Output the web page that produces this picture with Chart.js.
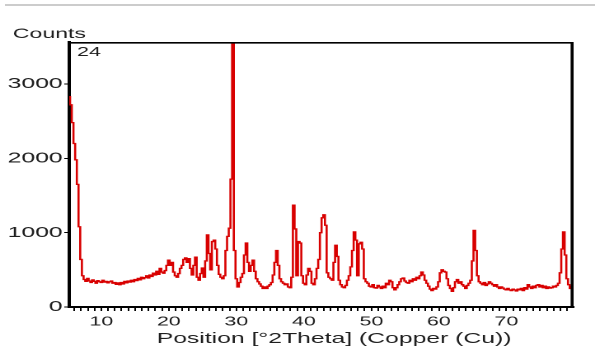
<!DOCTYPE html>
<html>
<head>
<meta charset="utf-8">
<script src="https://cdn.jsdelivr.net/npm/chart.js@4.4.1/dist/chart.umd.min.js"></script>
<style>
  html, body { margin: 0; padding: 0; background: #fff; width: 595px; height: 354px; overflow: hidden; }
  #topline { position: absolute; left: 5px; right: 0; top: 4px; height: 2px; background: #cccccc; }
  #wrap { position: absolute; left: 0; top: 0; width: 361px; height: 354px; transform: scaleX(1.6482); transform-origin: 0 0; }
</style>
</head>
<body>
<div id="topline"></div>
<div id="wrap"><canvas id="c" width="361" height="354"></canvas></div>
<script>
// 2θ scan: first angle and step width (degrees)
const startAngle = 5.25;
const angleStep = 0.25;
// Counts, 4 values per degree (rows start at n+0.25 and end at n+1)
const counts = [
  2830, 2720, 2480, 2200,
  1980, 1650, 1080, 640,
  420, 370, 345, 385,
  350, 330, 365, 345,
  320, 355, 340, 330,
  360, 335, 345, 325,
  340, 350, 320, 330,
  305, 325, 300, 330,
  310, 345, 325, 350,
  335, 360, 340, 370,
  355, 385, 365, 400,
  380, 395, 420, 390,
  430, 410, 455, 430,
  480, 440, 520, 470,
  455, 490, 560, 630,
  560, 600, 470, 420,
  400, 450, 520, 560,
  640, 660, 600, 650,
  520, 430, 560, 670,
  400, 360, 450, 525,
  400, 620, 970, 720,
  500, 880, 900, 780,
  560, 440, 400, 380,
  420, 760, 950, 1060,
  1720, 3565, 760, 380,
  270, 330, 400, 450,
  700, 860, 600, 480,
  560, 630, 480, 380,
  340, 310, 280, 250,
  270, 250, 280, 300,
  330, 430, 600, 760,
  560, 380, 340, 320,
  300, 310, 270, 260,
  400, 1370, 1050, 420,
  880, 860, 420, 320,
  300, 430, 520, 480,
  320, 300, 380, 520,
  640, 1000, 1200, 1240,
  1100, 460, 400, 380,
  360, 600, 830, 680,
  360, 300, 270, 260,
  290, 360, 420, 540,
  760, 1010, 900, 420,
  850, 870, 780, 380,
  340, 320, 280, 270,
  300, 260, 255, 290,
  270, 250, 280, 260,
  320, 300, 360, 340,
  260, 230, 260, 300,
  340, 380, 390, 350,
  330, 320, 360, 340,
  380, 360, 400, 380,
  420, 470, 430, 360,
  320, 280, 240, 220,
  250, 240, 270, 340,
  460, 500, 480, 470,
  380, 290, 250, 210,
  260, 340, 370, 320,
  340, 300, 280, 250,
  290, 320, 360, 620,
  1030, 760, 420, 340,
  320, 300, 330, 290,
  310, 340, 320, 300,
  280, 300, 270, 250,
  270, 255, 240, 230,
  250, 230, 220, 240,
  230, 215, 240, 230,
  250, 220, 260, 240,
  300, 270, 250, 280,
  260, 290, 300, 270,
  290, 260, 280, 250,
  270, 255, 260, 280,
  270, 290, 320, 460,
  780, 1010, 700, 380,
  300, 250, 280, 260
];
const yTicks = [0, 1000, 2000, 3000];
const xTickLabels = [10, 20, 30, 40, 50, 60, 70];
const yTitle = 'Counts';
const xTitle = 'Position [°2Theta] (Copper (Cu))';
const scanLabel = '24';

const points = counts.map((c, i) => ({ x: startAngle + i * angleStep, y: c }));

const FONT = '"Liberation Sans", Arial, sans-serif';

const framePlugin = {
  id: 'frame',
  afterDraw(chart) {
    const { ctx, chartArea: a } = chart;
    ctx.save();
    ctx.strokeStyle = '#000';
    ctx.lineWidth = 1.6;
    ctx.beginPath();
    ctx.moveTo(a.left, a.top + 0.8);
    ctx.lineTo(a.right, a.top + 0.8);
    ctx.stroke();
    ctx.lineWidth = 1.8;
    ctx.beginPath();
    ctx.moveTo(a.right - 0.9, a.top);
    ctx.lineTo(a.right - 0.9, a.bottom);
    ctx.stroke();
    ctx.fillStyle = '#1e1e1e';
    ctx.textBaseline = 'alphabetic';
    ctx.textAlign = 'left';
    ctx.font = '14px ' + FONT;
    ctx.fillText(yTitle, 7.8, 38);
    ctx.font = '13px ' + FONT;
    ctx.fillText(scanLabel, a.left + 4.8, 56);
    ctx.font = '15px ' + FONT;
    ctx.textAlign = 'center';
    ctx.fillText(xTitle, 202.7, 343);
    ctx.restore();
  }
};

new Chart(document.getElementById('c'), {
  type: 'line',
  data: {
    datasets: [{
      data: points,
      borderColor: '#d80000',
      borderWidth: 1.3,
      pointRadius: 0,
      stepped: 'middle',
      fill: false
    }]
  },
  options: {
    responsive: false,
    animation: false,
    devicePixelRatio: 2,
    layout: { padding: { top: 42, right: 13, bottom: 0, left: 0 } },
    plugins: { legend: { display: false }, tooltip: { enabled: false }, title: { display: false } },
    scales: {
      x: {
        type: 'linear',
        min: 5.25,
        max: 79.95,
        afterFit(s) { s.height = 47; },
        border: { display: true, color: '#000', width: 2 },
        grid: { drawOnChartArea: false, drawTicks: true, tickLength: 4, color: '#000', lineWidth: 1 },
        ticks: {
          stepSize: 1,
          includeBounds: false,
          autoSkip: false,
          maxRotation: 0,
          padding: 3,
          color: '#1e1e1e',
          font: { family: FONT, size: 13 },
          callback: (v) => xTickLabels.includes(Math.round(v)) && Math.abs(v - Math.round(v)) < 1e-6 ? String(Math.round(v)) : ''
        }
      },
      y: {
        min: 0,
        max: 3565,
        afterFit(s) { s.width = 42; },
        afterBuildTicks(s) { s.ticks = yTicks.map(v => ({ value: v })); },
        border: { display: true, color: '#000', width: 2 },
        grid: { drawOnChartArea: false, drawTicks: true, tickLength: 3, color: '#000', lineWidth: 1 },
        ticks: {
          padding: 1,
          color: '#1e1e1e',
          font: { family: FONT, size: 15 },
          callback: (v) => String(v)
        }
      }
    }
  },
  plugins: [framePlugin]
});
</script>
</body>
</html>
